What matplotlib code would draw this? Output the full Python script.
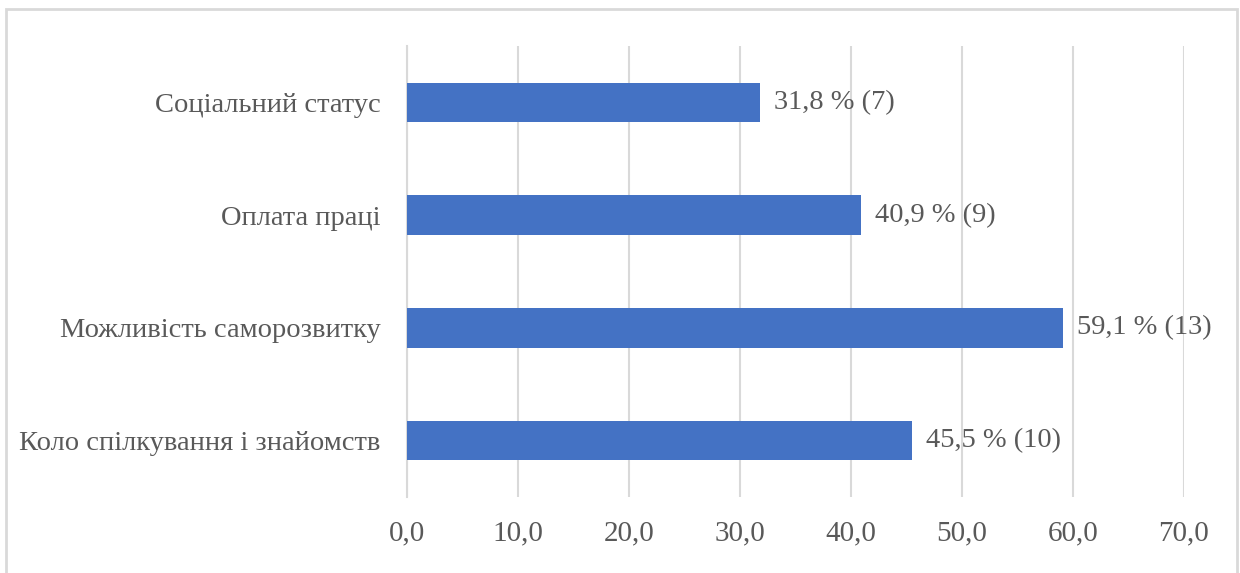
import matplotlib.pyplot as plt
from matplotlib.patches import Rectangle

categories = ['Коло спілкування і знайомств', 'Можливість саморозвитку',
              'Оплата праці', 'Соціальний статус']
percents = [45.5, 59.1, 40.9, 31.8]
counts = [10, 13, 9, 7]
xticks = [0, 10, 20, 30, 40, 50, 60, 70]

plt.rcParams['font.family'] = ['Liberation Serif', 'DejaVu Serif']
text_color = '#595959'
grid_color = '#d9d9d9'

fig = plt.figure(figsize=(12.4, 5.73), dpi=100)
ax = fig.add_axes([407 / 1240, 1 - 497 / 573, (1184 - 407) / 1240, (497 - 46) / 573])

y = range(len(categories))
bars = ax.barh(y, percents, height=0.35, color='#4472C4', zorder=3)

for b, p, c in zip(bars, percents, counts):
    lbl = '{} % ({})'.format(('%.1f' % p).replace('.', ','), c)
    ax.annotate(lbl, (b.get_width(), b.get_y() + b.get_height() / 2),
                xytext=(10, 0), textcoords='offset points', va='center', ha='left',
                fontsize=20.5, color=text_color)

ax.set_xlim(0, 70)
ax.set_ylim(-0.5, 3.5)
ax.set_xticks(xticks)
ax.set_xticklabels([('%.1f' % t).replace('.', ',') for t in xticks])
ax.set_yticks(list(y))
ax.set_yticklabels(categories)
ax.tick_params(axis='both', length=0, labelsize=20.5, labelcolor=text_color)
ax.tick_params(axis='x', labelsize=21, pad=17)
ax.tick_params(axis='y', pad=19)
ax.grid(axis='x', color=grid_color, linewidth=1.5, zorder=0)
for s in ['top', 'right', 'bottom']:
    ax.spines[s].set_visible(False)
ax.spines['left'].set_color(grid_color)
ax.spines['left'].set_linewidth(1.5)

# light frame round the whole chart
fig.patches.append(Rectangle((6 / 1240, -0.01), 1231 / 1240, 1 - 9 / 573 + 0.01,
                             transform=fig.transFigure, fill=False,
                             edgecolor=grid_color, linewidth=2))

fig.savefig('out.png', dpi=100)
